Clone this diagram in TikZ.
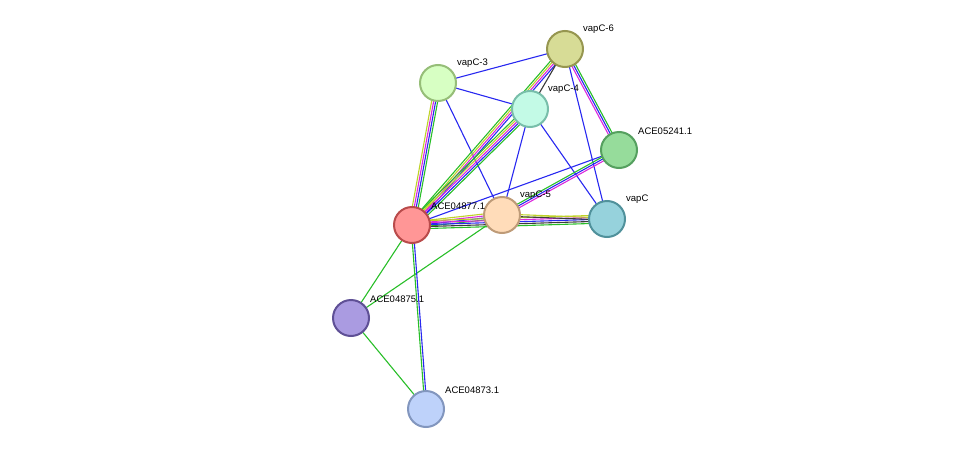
\documentclass[tikz,border=0pt]{standalone}
\usepackage{fontspec}
\setmainfont{Liberation Sans}
\usetikzlibrary{calc}
\definecolor{eyel}{RGB}{190,210,40}
\definecolor{emag}{RGB}{220,40,220}
\definecolor{eblu}{RGB}{40,40,240}
\definecolor{egrn}{RGB}{40,190,40}
\definecolor{egry}{RGB}{60,60,60}
\newcommand\medge[4]{%
  \foreach \cc [count=\ii] in {#4}{%
    \pgfmathsetmacro\off{(\ii-(#3+1)/2)*2}
    \draw[\cc,line width=1.1pt] ($(#1)!\off pt!90:(#2)$) -- ($(#2)!\off pt!-90:(#1)$);
  }}
\tikzset{prot/.style={circle,minimum size=36pt,inner sep=0pt,line width=2pt},
lab/.style={font=\fontsize{9.5}{11}\selectfont,anchor=south west,inner sep=0pt}}
\begin{document}
\begin{tikzpicture}[x=1pt,y=-1pt]
\useasboundingbox (0,0) rectangle (976,455);
\coordinate (v6) at (565,49);
\coordinate (v3) at (438,83);
\coordinate (v4) at (530,109);
\coordinate (a41) at (619,150);
\coordinate (vc) at (607,219);
\coordinate (v5) at (502,215);
\coordinate (a77) at (412,225);
\coordinate (a75) at (351,318);
\coordinate (a73) at (426,409);
\medge{v6}{v3}{1}{eblu}
\medge{v3}{v4}{1}{eblu}
\medge{v3}{v5}{1}{eblu}
\medge{v3}{a77}{4}{eyel,emag,eblu,egrn}
\medge{v6}{a77}{4}{egrn,eyel,emag,eblu}
\medge{v4}{a77}{5}{egrn,eyel,emag,eblu,egrn}
\medge{v6}{v4}{1}{egry}
\medge{v6}{a41}{3}{emag,eblu,egrn}
\medge{v6}{vc}{1}{eblu}
\medge{v4}{v5}{1}{eblu}
\medge{v4}{vc}{1}{eblu}
\medge{a41}{a77}{1}{eblu}
\medge{a41}{v5}{3}{egrn,eblu,emag}
\medge{v5}{a77}{4}{eyel,emag,eblu,egrn}
\medge{vc}{a77}{5}{eyel,emag,eblu,egry,egrn}
\medge{v5}{vc}{2}{egry,eyel}
\medge{a77}{a75}{1}{egrn}
\medge{v5}{a75}{1}{egrn}
\medge{a75}{a73}{1}{egrn}
\medge{a77}{a73}{2}{egrn,eblu}
\node[prot,draw={rgb,255:red,150;green,150;blue,80},fill={rgb,255:red,215;green,220;blue,150}] (n6) at (v6) {};
\node[prot,draw={rgb,255:red,150;green,190;blue,120},fill={rgb,255:red,215;green,255;blue,195}] (n3) at (v3) {};
\node[prot,draw={rgb,255:red,120;green,190;blue,170},fill={rgb,255:red,195;green,250;blue,230}] (n4) at (v4) {};
\node[prot,draw={rgb,255:red,85;green,160;blue,95},fill={rgb,255:red,150;green,220;blue,155}] (n41) at (a41) {};
\node[prot,draw={rgb,255:red,80;green,145;blue,155},fill={rgb,255:red,150;green,210;blue,220}] (nc) at (vc) {};
\node[prot,draw={rgb,255:red,190;green,155;blue,120},fill={rgb,255:red,255;green,220;blue,185}] (n5) at (v5) {};
\node[prot,draw={rgb,255:red,185;green,75;blue,75},fill={rgb,255:red,255;green,150;blue,150}] (n77) at (a77) {};
\node[prot,draw={rgb,255:red,95;green,80;blue,150},fill={rgb,255:red,170;green,155;blue,225}] (n75) at (a75) {};
\node[prot,draw={rgb,255:red,130;green,150;blue,190},fill={rgb,255:red,190;green,210;blue,250}] (n73) at (a73) {};
\node[lab] at (583,34) {vapC-6};
\node[lab] at (457,68) {vapC-3};
\node[lab] at (548,94) {vapC-4};
\node[lab] at (638,135) {ACE05241.1};
\node[lab] at (626,204) {vapC};
\node[lab] at (431,210) {ACE04877.1};
\node[lab] at (520,200) {vapC-5};
\node[lab] at (370,303) {ACE04875.1};
\node[lab] at (445,394) {ACE04873.1};
\end{tikzpicture}
\end{document}
